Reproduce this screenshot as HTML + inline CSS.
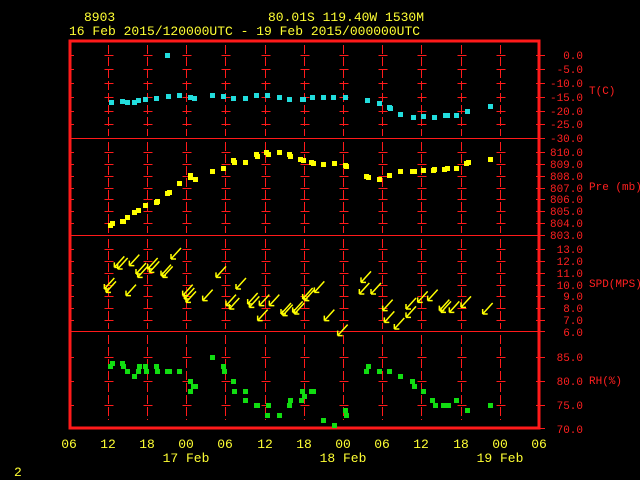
<!DOCTYPE html>
<html><head><meta charset="utf-8"><style>
html,body{margin:0;padding:0;background:#000;width:640px;height:480px;overflow:hidden}
svg{display:block}
.y{fill:#ffff33;font-family:"Liberation Mono",monospace;font-size:13px}
.r{fill:#ff2020;font-family:"Liberation Mono",monospace;font-size:11px}
</style></head><body>
<svg id="s" width="640" height="480" xmlns="http://www.w3.org/2000/svg">
<text class="y" x="84" y="21">8903</text>
<text class="y" x="268" y="21">80.01S  119.40W  1530M</text>
<text class="y" x="69" y="35">16 Feb 2015/120000UTC - 19 Feb 2015/000000UTC</text>
<g id="grid" stroke="#ff1a1a" fill="none" shape-rendering="crispEdges"></g>
<rect x="70" y="41" width="469" height="387" fill="none" stroke="#ff1a1a" stroke-width="3" shape-rendering="crispEdges"/>
<g stroke="#ff1a1a" stroke-width="1" shape-rendering="crispEdges">
<line x1="70" y1="138.5" x2="539" y2="138.5"/><line x1="70" y1="235.5" x2="539" y2="235.5"/><line x1="70" y1="331.5" x2="539" y2="331.5"/>
</g>
<g class="r" text-anchor="end">
<text x="583" y="59">0.0</text><text x="583" y="73">-5.0</text><text x="583" y="87">-10.0</text><text x="583" y="101">-15.0</text><text x="583" y="115">-20.0</text><text x="583" y="128">-25.0</text><text x="583" y="142">-30.0</text>
<text x="583" y="156">810.0</text><text x="583" y="168">809.0</text><text x="583" y="180">808.0</text><text x="583" y="192">807.0</text><text x="583" y="203">806.0</text><text x="583" y="215">805.0</text><text x="583" y="227">804.0</text><text x="583" y="239">803.0</text>
<text x="583" y="253">13.0</text><text x="583" y="265">12.0</text><text x="583" y="277">11.0</text><text x="583" y="289">10.0</text><text x="583" y="300">9.0</text><text x="583" y="312">8.0</text><text x="583" y="324">7.0</text><text x="583" y="336">6.0</text>
<text x="583" y="361">85.0</text><text x="583" y="385">80.0</text><text x="583" y="409">75.0</text><text x="583" y="433">70.0</text>
</g>
<g class="r">
<text x="589" y="94">T(C)</text><text x="589" y="190">Pre (mb)</text><text x="589" y="287">SPD(MPS)</text><text x="589" y="384">RH(%)</text>
</g>
<g class="y" text-anchor="middle">
<text x="69" y="448">06</text><text x="108" y="448">12</text><text x="147" y="448">18</text><text x="186" y="448">00</text><text x="225" y="448">06</text><text x="265" y="448">12</text><text x="304" y="448">18</text><text x="343" y="448">00</text><text x="382" y="448">06</text><text x="421" y="448">12</text><text x="461" y="448">18</text><text x="500" y="448">00</text><text x="539" y="448">06</text>
<text x="186" y="462">17 Feb</text><text x="343" y="462">18 Feb</text><text x="500" y="462">19 Feb</text>
</g>
<text class="y" x="14" y="476">2</text>
<g id="pts"></g>
</svg>
<script>
var NS="http://www.w3.org/2000/svg",g=document.getElementById('grid'),P=document.getElementById('pts');
function el(t,a,p){var e=document.createElementNS(NS,t);for(var k in a)e.setAttribute(k,a[k]);(p||P).appendChild(e);return e;}
var xs=[108.5,147.5,186.5,225.5,265.5,304.5,343.5,382.5,421.5,461.5,500.5];
var ys=[55.5,69.5,83.5,97.5,111.5,124.5,152.5,164.5,176.5,188.5,199.5,211.5,223.5,249.5,261.5,273.5,285.5,296.5,308.5,320.5,357.5,381.5,405.5];
xs.forEach(function(x){
 [[45,136],[142,233],[239,329],[335,420]].forEach(function(r){el('line',{x1:x,y1:r[0],x2:x,y2:r[1],'stroke-dasharray':'9,3'},g);});
 ys.forEach(function(y){el('line',{x1:x-4,y1:y,x2:x+5,y2:y},g);});
});
ys.forEach(function(y){el('line',{x1:70,y1:y,x2:74,y2:y},g);el('line',{x1:536,y1:y,x2:545,y2:y},g);});
[138.5,235.5,331.5,428.5].forEach(function(y){el('line',{x1:536,y1:y,x2:545,y2:y},g);});
function sq(arr,ox,oy,c){for(var i=0;i<arr.length;i+=2)el('rect',{x:Math.round(ox+arr[i]/3-2.5),y:Math.round(oy+arr[i+1]/3-2.5),width:5,height:5,fill:c});}
sq([155,308,187,305,201,308,222,308,235,302,256,297,289,295,325,290,357,287,390,291,402,294,456,285,490,290,520,296,555,294,589,285,622,285,657,293,688,299,726,297,731,297,756,293,789,293,821,291,857,293,922,302,957,311,987,322,990,326,1021,344,1059,351,1091,348,1122,351,1157,347,1163,347,1188,345,1222,335,1290,320,323,167],60,0,'#22dddd');
sq([152,270,156,266,186,258,189,260,201,248,222,233,235,227,256,212,288,203,291,198,323,176,327,173,357,146,390,128,392,122,405,134,456,110,490,101,519,77,522,83,555,83,588,59,591,63,620,53,624,57,657,53,687,59,690,63,722,74,731,77,753,83,759,86,789,89,822,86,855,92,858,95,920,125,924,128,957,134,987,122,1021,110,1056,110,1062,110,1090,107,1119,107,1124,104,1152,104,1163,101,1188,101,1220,86,1224,83,1290,74],60,135,'#ffff00');
sq([156,99,152,110,186,99,189,110,201,125,222,140,234,125,237,110,255,110,258,125,288,110,291,125,323,125,327,125,357,125,390,155,392,185,400,170,405,170,456,83,489,110,492,125,519,155,522,185,555,185,555,212,588,227,591,227,624,227,621,257,657,257,687,227,690,212,723,212,726,185,732,200,753,185,759,185,789,272,822,287,855,242,858,257,920,125,924,110,957,125,987,125],60,330,'#11dd11');
sq([28,125,61,140,96,155,102,170,130,185,158,212,165,227,190,227,204,227,228,212,262,242,330,227],380,330,'#11dd11');
var w=[145,165,175,100,185,105,220,95,240,120,275,105,315,125,345,75,210,185,380,185,385,195,440,200,480,130,510,215,540,165,575,210,610,215,640,215,605,260,675,240,710,235,740,195,775,175,805,260,845,305,915,145,910,180,945,180,980,230,985,265,1015,285,1050,225,1050,250,1085,205,1115,200,1150,230,1180,235,1215,220,1280,240,150,175,245,130,280,115,320,130,390,205,520,225,580,220,680,245,715,240,745,200,1155,235];
for(var i=0;i<w.length;i+=2){var x=60+w[i]/3-4,y=230+w[i+1]/3+4;
 el('path',{d:'M'+x+' '+y+'L'+(x+10)+' '+(y-11)+'M'+x+' '+y+'L'+x+' '+(y-5)+'M'+x+' '+y+'L'+(x+5)+' '+y,stroke:'#ffff00','stroke-width':1.5,fill:'none'});}
</script>
</body></html>
